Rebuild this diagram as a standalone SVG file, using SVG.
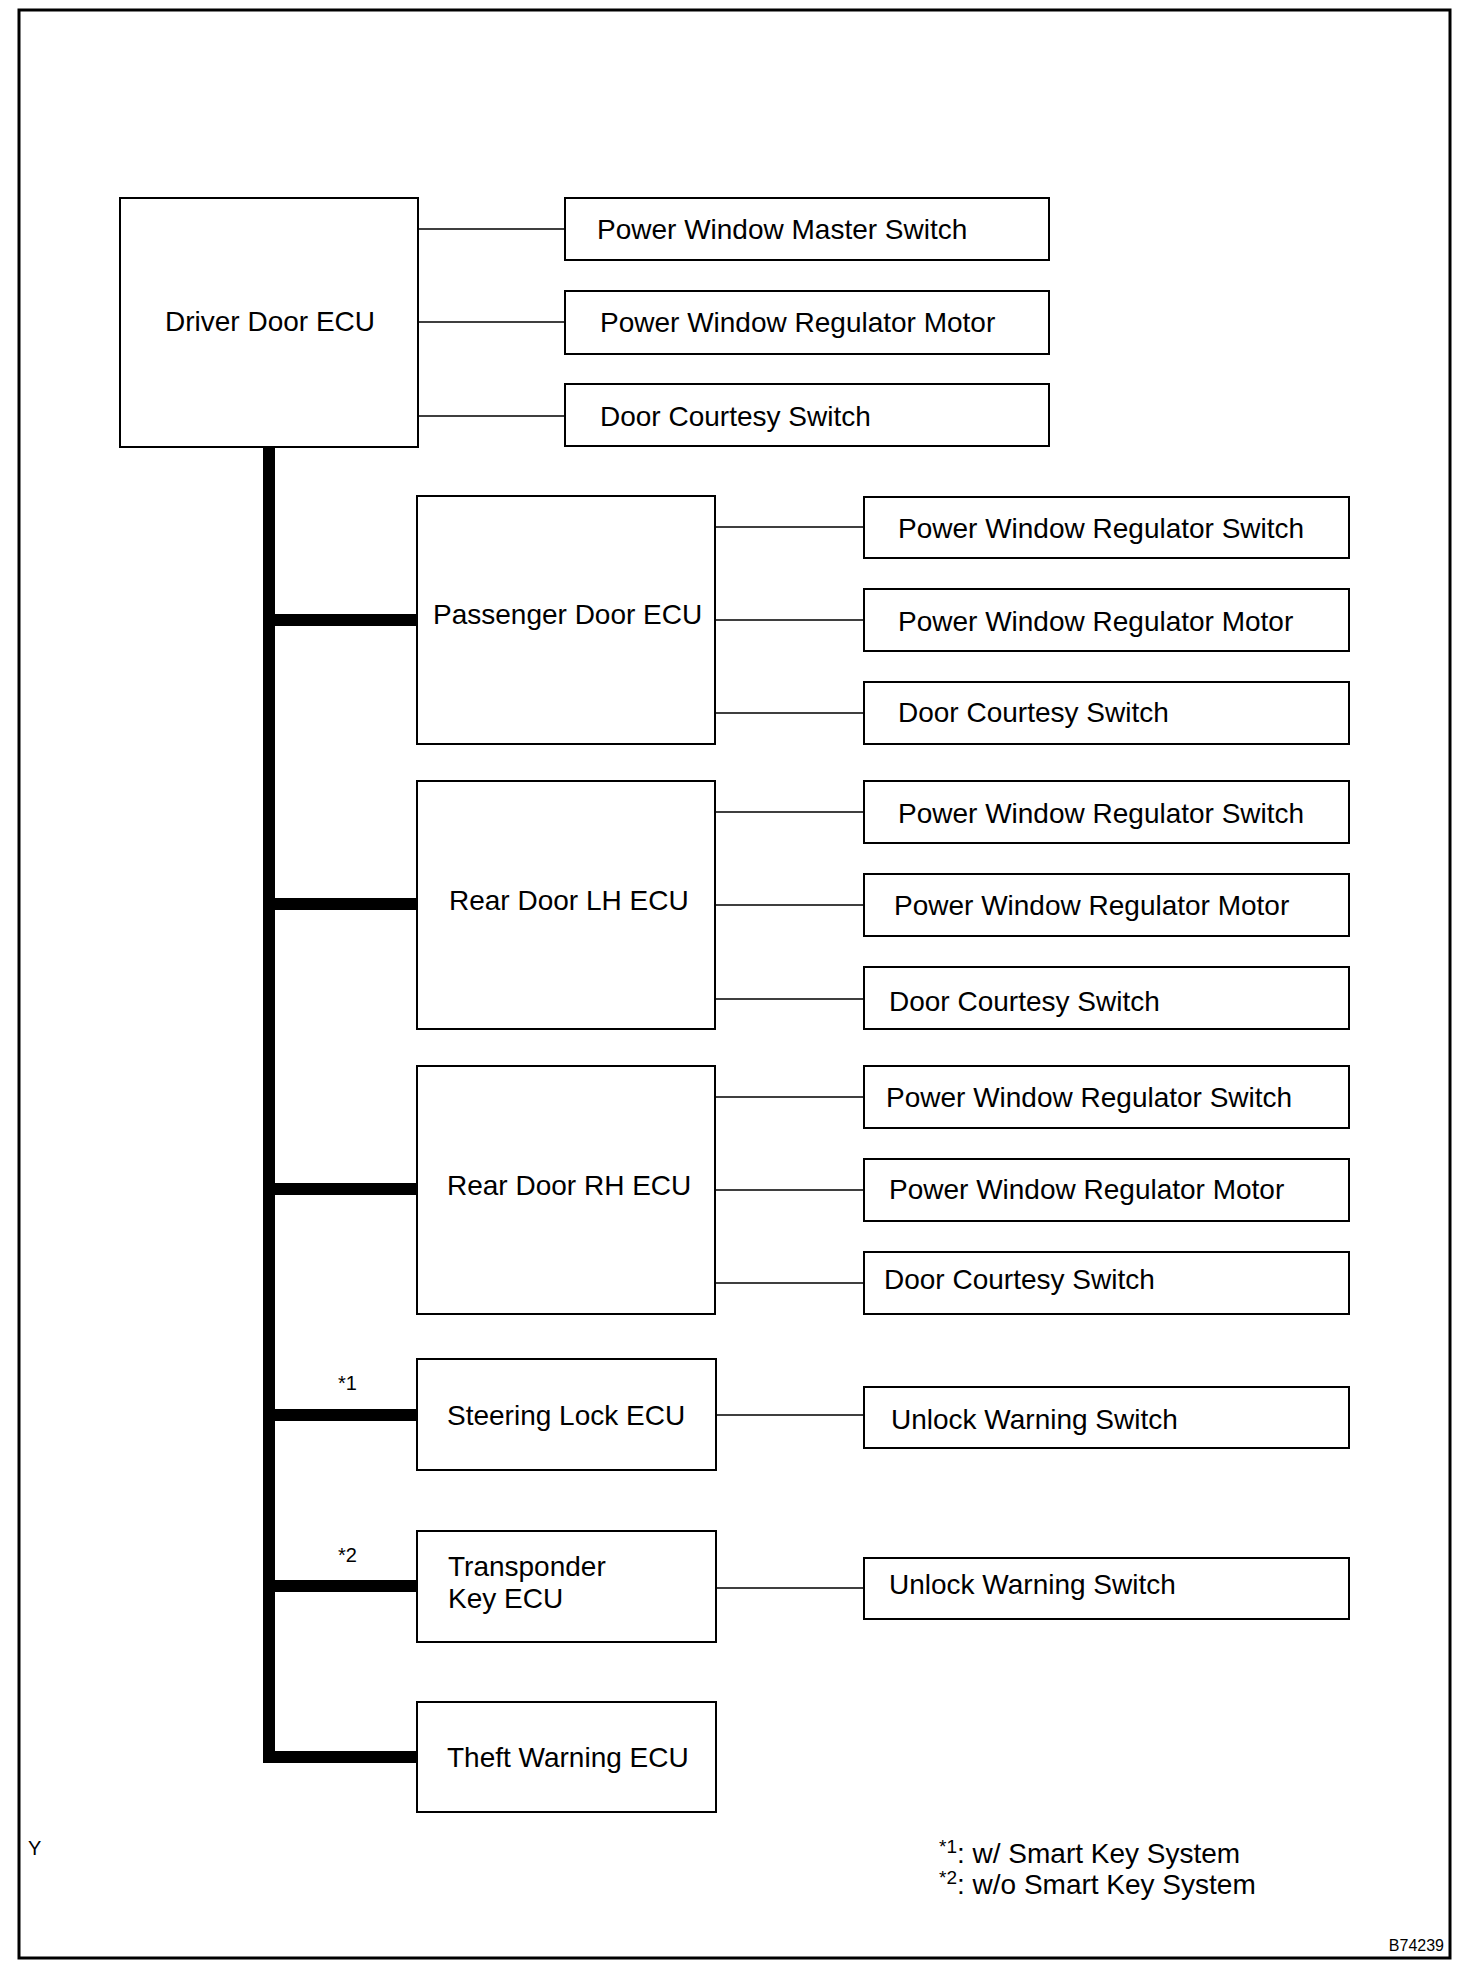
<svg xmlns="http://www.w3.org/2000/svg" width="1472" height="1976" viewBox="0 0 1472 1976">
<style>
.box{fill:#fff;stroke:#000;stroke-width:2}
.t{font-family:"Liberation Sans",Arial,sans-serif;font-size:28px;fill:#000}
.s{font-family:"Liberation Sans",Arial,sans-serif;font-size:20px;fill:#000}
.ln{stroke:#000;stroke-width:1.5;fill:none}
.bus{stroke:#000;stroke-width:12;fill:none;stroke-linejoin:miter}
</style>
<rect x="0" y="0" width="1472" height="1976" fill="#fff"/>
<rect x="19" y="10" width="1431" height="1948" fill="none" stroke="#000" stroke-width="3"/>
<g id="connectors">
<path class="bus" d="M269,447 V1757 H418"/>
<path class="bus" d="M269,620 H418 M269,904 H418 M269,1189 H418 M269,1415 H418 M269,1586 H418"/>
<path class="ln" d="M418,229 H565 M418,322 H565 M418,416 H565"/>
<path class="ln" d="M716,527 H864 M716,620 H864 M716,713 H864"/>
<path class="ln" d="M716,812 H864 M716,905 H864 M716,999 H864"/>
<path class="ln" d="M716,1097 H864 M716,1190 H864 M716,1283 H864"/>
<path class="ln" d="M716,1415 H864 M716,1588 H864"/>
</g>
<g id="driver-door-ecu"><rect class="box" x="120" y="198" width="298" height="249"/><text class="t" x="165" y="331">Driver Door ECU</text></g>
<g id="d-pw-master-switch"><rect class="box" x="565" y="198" width="484" height="62"/><text class="t" x="597" y="239">Power Window Master Switch</text></g>
<g id="d-pw-reg-motor"><rect class="box" x="565" y="291" width="484" height="63"/><text class="t" x="600" y="332">Power Window Regulator Motor</text></g>
<g id="d-door-courtesy"><rect class="box" x="565" y="384" width="484" height="62"/><text class="t" x="600" y="426">Door Courtesy Switch</text></g>

<g id="passenger-door-ecu"><rect class="box" x="417" y="496" width="298" height="248"/><text class="t" x="433" y="624">Passenger Door ECU</text></g>
<g id="p-pw-reg-switch"><rect class="box" x="864" y="497" width="485" height="61"/><text class="t" x="898" y="538">Power Window Regulator Switch</text></g>
<g id="p-pw-reg-motor"><rect class="box" x="864" y="589" width="485" height="62"/><text class="t" x="898" y="631">Power Window Regulator Motor</text></g>
<g id="p-door-courtesy"><rect class="box" x="864" y="682" width="485" height="62"/><text class="t" x="898" y="722">Door Courtesy Switch</text></g>

<g id="rear-door-lh-ecu"><rect class="box" x="417" y="781" width="298" height="248"/><text class="t" x="449" y="910">Rear Door LH ECU</text></g>
<g id="lh-pw-reg-switch"><rect class="box" x="864" y="781" width="485" height="62"/><text class="t" x="898" y="823">Power Window Regulator Switch</text></g>
<g id="lh-pw-reg-motor"><rect class="box" x="864" y="874" width="485" height="62"/><text class="t" x="894" y="915">Power Window Regulator Motor</text></g>
<g id="lh-door-courtesy"><rect class="box" x="864" y="967" width="485" height="62"/><text class="t" x="889" y="1011">Door Courtesy Switch</text></g>

<g id="rear-door-rh-ecu"><rect class="box" x="417" y="1066" width="298" height="248"/><text class="t" x="447" y="1195">Rear Door RH ECU</text></g>
<g id="rh-pw-reg-switch"><rect class="box" x="864" y="1066" width="485" height="62"/><text class="t" x="886" y="1107">Power Window Regulator Switch</text></g>
<g id="rh-pw-reg-motor"><rect class="box" x="864" y="1159" width="485" height="62"/><text class="t" x="889" y="1199">Power Window Regulator Motor</text></g>
<g id="rh-door-courtesy"><rect class="box" x="864" y="1252" width="485" height="62"/><text class="t" x="884" y="1289">Door Courtesy Switch</text></g>

<g id="steering-lock-ecu"><rect class="box" x="417" y="1359" width="299" height="111"/><text class="t" x="447" y="1425">Steering Lock ECU</text><text class="s" x="338" y="1390">*1</text></g>
<g id="unlock-warning-1"><rect class="box" x="864" y="1387" width="485" height="61"/><text class="t" x="891" y="1429">Unlock Warning Switch</text></g>

<g id="transponder-key-ecu"><rect class="box" x="417" y="1531" width="299" height="111"/><text class="t" x="448" y="1576">Transponder</text><text class="t" x="448" y="1608">Key ECU</text><text class="s" x="338" y="1562">*2</text></g>
<g id="unlock-warning-2"><rect class="box" x="864" y="1558" width="485" height="61"/><text class="t" x="889" y="1594">Unlock Warning Switch</text></g>

<g id="theft-warning-ecu"><rect class="box" x="417" y="1702" width="299" height="110"/><text class="t" x="447" y="1767">Theft Warning ECU</text></g>

<g id="notes">
<text class="s" x="28" y="1855">Y</text>
<text class="t" x="939" y="1863" style="font-size:28px"><tspan style="font-size:19px" dy="-10">*1</tspan><tspan dy="10">: w/ Smart Key System</tspan></text>
<text class="t" x="939" y="1894" style="font-size:28px"><tspan style="font-size:19px" dy="-10">*2</tspan><tspan dy="10">: w/o Smart Key System</tspan></text>
<text class="t" x="1444" y="1951" text-anchor="end" style="font-size:16px">B74239</text>
</g>
</svg>
